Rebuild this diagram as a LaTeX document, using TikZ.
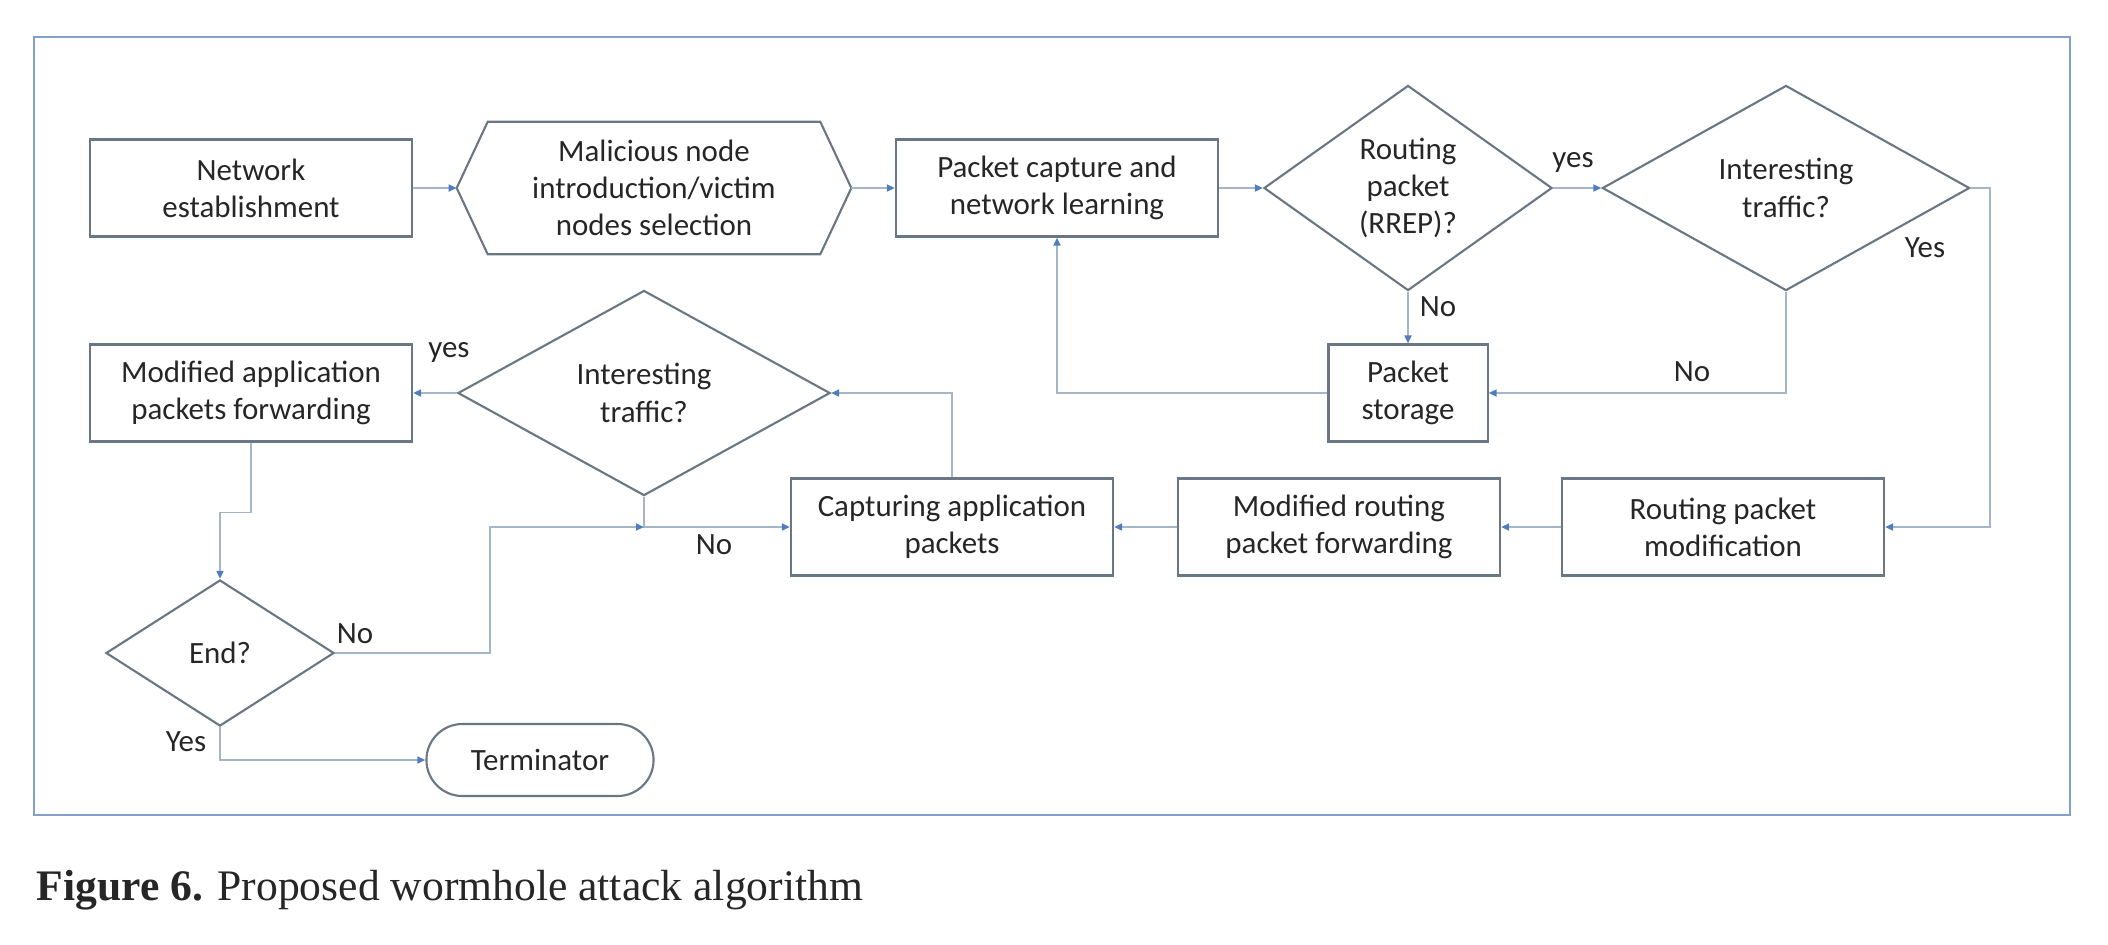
\documentclass[tikz,border=0pt]{standalone}
\usepackage{fontspec}
\setmainfont{Carlito}
\newfontfamily\captionfont{Liberation Serif}
\usetikzlibrary{arrows.meta,shapes.geometric}
\definecolor{frameblue}{RGB}{130,160,205}
\definecolor{edgegray}{RGB}{105,118,132}
\definecolor{linegray}{RGB}{165,182,200}
\definecolor{tipblue}{RGB}{80,125,190}

\begin{document}
\begin{tikzpicture}[x=0.01cm,y=-0.01cm,>={Triangle[length=0.08cm,width=0.07cm,color=tipblue]},
  every node/.style={font=\fontsize{8.8}{10.6}\selectfont,text=black!85},
  box/.style={draw=edgegray,line width=0.6pt,minimum width=3.22cm,minimum height=0.97cm,align=center,inner sep=2pt},
  dec/.style={draw=edgegray,line width=0.6pt,diamond,minimum height=2.05cm,align=center,inner sep=0pt},
  flow/.style={->,draw=linegray,line width=0.5pt}]
\useasboundingbox (0,0) rectangle (2108,944);
\draw[frameblue,line width=0.7pt] (34,37) rectangle (2070,815);

\node[box] (net) at (251,188) {Network\\establishment};
\node[minimum width=3.93cm,minimum height=1.31cm,align=center] (mal) at (654,188) {Malicious node\\introduction/victim\\nodes selection};
\draw[edgegray,line width=0.6pt] (mal.west) -- ([xshift=0.31cm]mal.north west) -- ([xshift=-0.31cm]mal.north east) -- (mal.east) -- ([xshift=-0.31cm]mal.south east) -- ([xshift=0.31cm]mal.south west) -- cycle;
\node[box] (cap) at (1057,188) {Packet capture and\\network learning};
\node[dec,minimum width=2.88cm] (rrep) at (1408,188) {Routing\\packet\\(RREP)?};
\node[dec,minimum width=3.67cm] (int1) at (1786,188) {Interesting\\traffic?};
\node[box,minimum width=1.59cm] (store) at (1408,393) {Packet\\storage};
\node[box] (rmod) at (1723,527) {Routing packet\\modification};
\node[box] (rfwd) at (1339,527) {Modified routing\\packet forwarding};
\node[box] (appcap) at (952,527) {Capturing application\\packets};
\node[dec,minimum width=3.72cm] (int2) at (644,393) {Interesting\\traffic?};
\node[box] (appfwd) at (251,393) {Modified application\\packets forwarding};
\node[dec,minimum width=2.28cm,minimum height=1.46cm] (end) at (220,653) {End?};
\node[draw=edgegray,line width=0.6pt,rounded corners=0.36cm,minimum width=2.27cm,minimum height=0.72cm] (term) at (540,760) {Terminator};

\draw[flow] (net) -- (mal);
\draw[flow] (mal) -- (cap);
\draw[flow] (cap) -- (rrep);
\draw[flow] (rrep) -- (int1);
\draw[flow] (rrep) -- (store);
\draw[flow] (int1.south) |- (store.east);
\draw[flow] (store.west) -| (cap.south);
\coordinate (rt) at (1990,188);
\draw[flow] (int1.east) -- (rt) |- (rmod.east);
\draw[flow] (rmod) -- (rfwd);
\draw[flow] (rfwd) -- (appcap);
\draw[flow] (appcap.north) |- (int2.east);
\draw[flow] (int2) -- (appfwd);
\draw[flow] (int2.south) |- (appcap.west);
\draw[flow] (appfwd.south) -- ++(0,70) -| (end.north);
\coordinate (join) at (int2.south |- appcap.west);
\draw[flow] (end.east) -- ++(155,0) |- (join);
\draw[flow] (end.south) |- (term.west);

\node (yes1) at (1573,162) {yes};
\node (no1) at (1438,307) {No};
\node (no2) at (1692,372) {No};
\node (yes2) at (1925,248) {Yes};
\node (yes3) at (449,352) {yes};
\node (no3) at (714,545) {No};
\node (no4) at (355,634) {No};
\node (yes4) at (186,742) {Yes};

\node[anchor=base west,font=\captionfont\fontsize{12.4}{14}\selectfont,inner sep=0pt] (caption) at (36,900) {\textbf{Figure 6.} Proposed wormhole attack algorithm};
\end{tikzpicture}
\end{document}
